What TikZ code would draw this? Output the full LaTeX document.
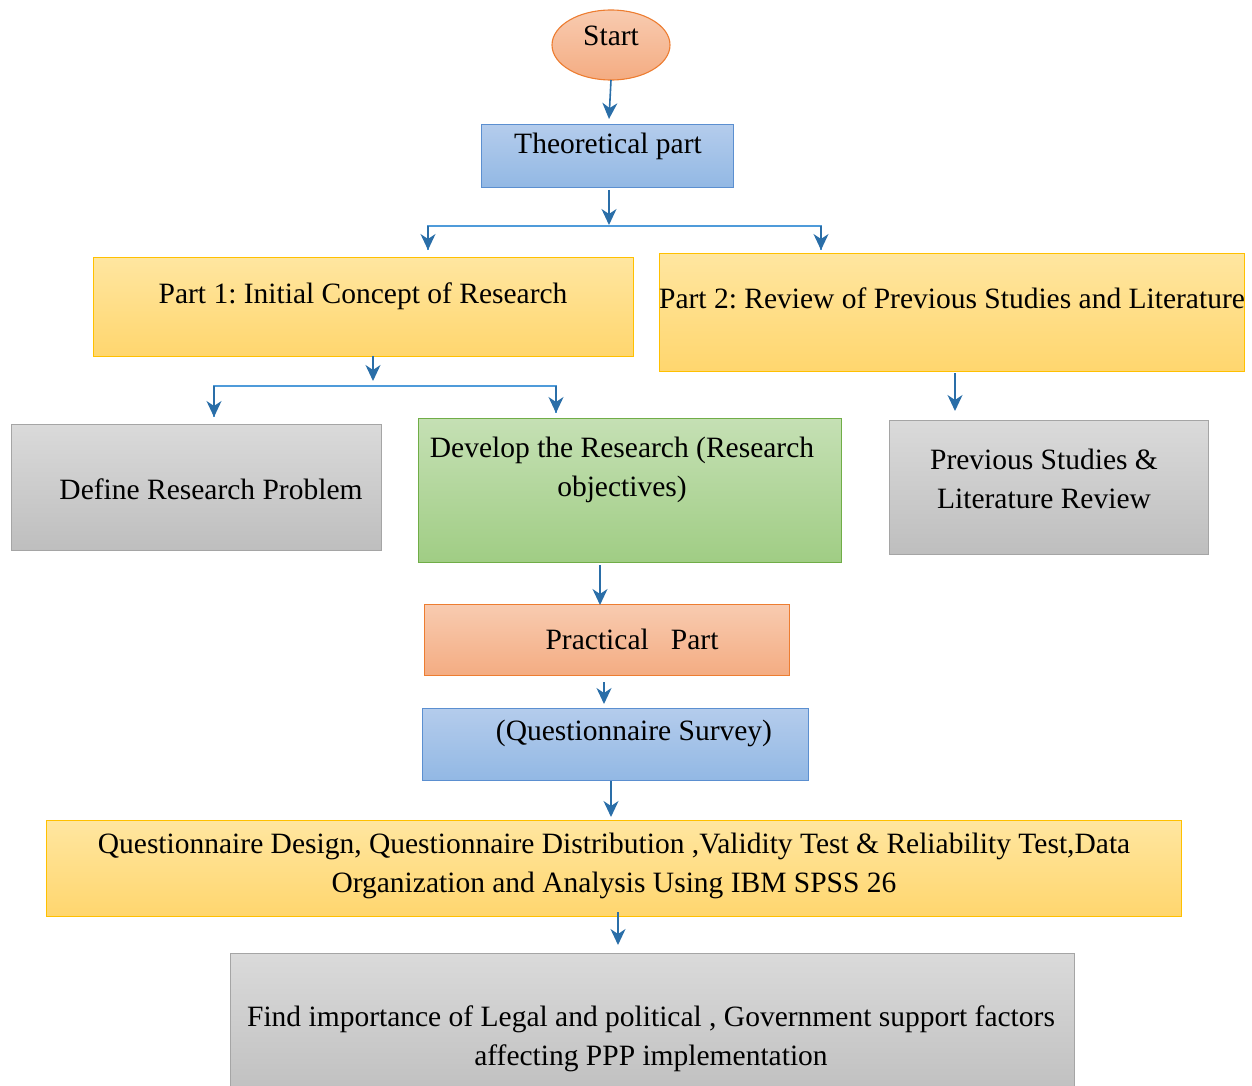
\documentclass[tikz,border=0pt]{standalone}
\usepackage{fontspec}
\setmainfont{Liberation Serif}
\usetikzlibrary{arrows.meta,shapes.geometric}
\definecolor{arr}{HTML}{2A6EA8}
\definecolor{brl}{HTML}{4F9BDA}
\begin{document}
\frenchspacing
\begin{tikzpicture}[x=1pt,y=-1pt,
  font=\fontsize{29.5}{38.5}\selectfont,
  box/.style={draw, line width=1.1pt, inner sep=0pt, anchor=north west},
  orangebox/.style={box, top color={rgb,255:red,248;green,203;blue,176}, bottom color={rgb,255:red,244;green,172;blue,130}, draw={rgb,255:red,237;green,125;blue,49}},
  bluebox/.style={box, top color={rgb,255:red,180;green,204;blue,236}, bottom color={rgb,255:red,146;green,184;blue,228}, draw={rgb,255:red,91;green,143;blue,208}},
  yellowbox/.style={box, top color={rgb,255:red,255;green,230;blue,160}, bottom color={rgb,255:red,255;green,214;blue,110}, draw={rgb,255:red,255;green,192;blue,0}},
  graybox/.style={box, top color={rgb,255:red,218;green,218;blue,218}, bottom color={rgb,255:red,190;green,190;blue,190}, draw={rgb,255:red,165;green,165;blue,165}},
  greenbox/.style={box, top color={rgb,255:red,197;green,224;blue,180}, bottom color={rgb,255:red,160;green,205;blue,132}, draw={rgb,255:red,112;green,173;blue,71}},
  txt/.style={inner sep=0pt, align=center},
  arrow/.style={draw=arr, line width=1.6pt, -{Stealth[length=16pt, width=15pt, inset=5pt]}},
  branch/.style={draw=brl, line width=1.6pt}
]
\clip (0,0) rectangle (1252,1086);
\useasboundingbox (0,0) rectangle (1252,1086);

% Start
\node[ellipse, draw={rgb,255:red,237;green,125;blue,49}, line width=1.1pt,
  top color={rgb,255:red,248;green,203;blue,176}, bottom color={rgb,255:red,244;green,172;blue,130},
  minimum width=118pt, minimum height=70pt, inner sep=0pt] (start) at (611,45) {};
\node[txt] (starttxt) at (611,36) {Start};

% Theoretical part
\node[bluebox, minimum width=252pt, minimum height=63pt] (theo) at (481,124) {};
\node[txt] (theotxt) at (608,146) {Theoretical part};

% Part 1 and Part 2
\node[yellowbox, minimum width=540pt, minimum height=99pt] (p1) at (93,257) {};
\node[txt] (p1txt) at (363,296) {Part 1: Initial Concept of Research};
\node[yellowbox, minimum width=585pt, minimum height=118pt] (p2) at (659,253) {};
\node[txt] (p2txt) at (952,298) {Part 2: Review of Previous Studies and Literature};

% Third row
\node[graybox, minimum width=370pt, minimum height=126pt] (def) at (11,424) {};
\node[txt] (deftxt) at (211,489) {Define Research Problem};
\node[greenbox, minimum width=423pt, minimum height=144pt] (dev) at (418,418) {};
\node[txt] (devtxt) at (622,470) {Develop the Research (Research\\objectives)};
\node[graybox, minimum width=319pt, minimum height=134pt] (prev) at (889,420) {};
\node[txt] (prevtxt) at (1044,479) {Previous Studies \&\\Literature Review};

% Practical part
\node[orangebox, minimum width=365pt, minimum height=71pt] (prac) at (424,604) {};
\node[txt] (practxt) at (632,639) {Practical\ \ \ Part};

% Questionnaire survey
\node[bluebox, minimum width=386pt, minimum height=72pt] (qs) at (422,708) {};
\node[txt] (qstxt) at (634,733) {(Questionnaire Survey)};

% Big yellow
\node[yellowbox, minimum width=1135pt, minimum height=96pt] (qd) at (46,820) {};
\node[txt] (qdtxt) at (614,866) {Questionnaire Design, Questionnaire Distribution ,Validity Test \& Reliability Test,Data\\Organization and Analysis Using IBM SPSS 26};

% Final
\node[graybox, minimum width=844pt, minimum height=150pt] (fin) at (230,953) {};
\node[txt] (fintxt) at (651,1039) {Find importance of Legal and political , Government support factors\\affecting PPP implementation};

% connector coordinates
\coordinate (a1s) at (611,80);  \coordinate (a1e) at (609,119);
\coordinate (a2s) at (609,190); \coordinate (a2e) at (609,225);
\coordinate (b1l) at (428,226); \coordinate (b1r) at (821,226);
\coordinate (b1le) at (428,250); \coordinate (b1re) at (821,250);
\coordinate (a3s) at (373,356); \coordinate (a3e) at (373,381);
\coordinate (b2l) at (214,386); \coordinate (b2r) at (556,386);
\coordinate (b2le) at (214,417); \coordinate (b2re) at (556,413);
\coordinate (a4s) at (955,373); \coordinate (a4e) at (955,411);
\coordinate (a5s) at (600,565); \coordinate (a5e) at (600,605);
\coordinate (a6s) at (604,682); \coordinate (a6e) at (604,704);
\coordinate (a7s) at (611,781); \coordinate (a7e) at (611,817);
\coordinate (a8s) at (618,912); \coordinate (a8e) at (618,945);

\draw[branch] (b1le) -- (b1l) -- (b1r) -- (b1re);
\draw[branch] (b2le) -- (b2l) -- (b2r) -- (b2re);
\draw[arrow] (a1s) -- (a1e);
\draw[arrow] (a2s) -- (a2e);
\draw[arrow] (b1l) -- (b1le);
\draw[arrow] (b1r) -- (b1re);
\draw[arrow] (a3s) -- (a3e);
\draw[arrow] (b2l) -- (b2le);
\draw[arrow] (b2r) -- (b2re);
\draw[arrow] (a4s) -- (a4e);
\draw[arrow] (a5s) -- (a5e);
\draw[arrow] (a6s) -- (a6e);
\draw[arrow] (a7s) -- (a7e);
\draw[arrow] (a8s) -- (a8e);
\end{tikzpicture}
\end{document}
